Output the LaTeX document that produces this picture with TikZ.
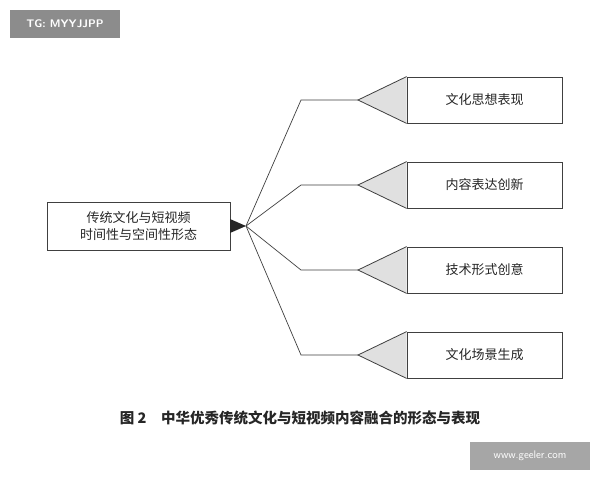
\documentclass[tikz,border=0pt]{standalone}
\usepackage{fontspec}
\newfontfamily\cjk{Noto Sans CJK SC}
\tikzset{
 rbox/.style={draw=black!75,line width=0.8pt,minimum width=155pt,minimum height=46pt,inner sep=0pt,font=\cjk\fontsize{13}{15}\selectfont,text=black!85},
 lbox/.style={draw=black!75,line width=0.8pt,minimum width=183pt,minimum height=48pt,inner sep=0pt,font=\cjk\fontsize{13}{17}\selectfont,text=black!85,align=center},
 conn/.style={draw=black!75,line width=0.7pt},
 wm/.style={fill=black!45,text=white,font=\sffamily\bfseries\fontsize{11}{12}\selectfont,inner sep=0pt}
}
\begin{document}
\begin{tikzpicture}[x=1pt,y=-1pt]
\useasboundingbox (0,0) rectangle (600,480);
\fill[white] (0,0) rectangle (600,480);
\node[wm,minimum width=110pt,minimum height=28pt] (wm1) at (65,24) {TG: MYYJJPP};
\node[wm,minimum width=120pt,minimum height=28pt,fill=black!35,font=\sffamily\fontsize{11}{12}\selectfont] (wm2) at (530,456) {www.geeler.com};
\node[lbox] (src) at (138.5,226) {传统文化与短视频\\时间性与空间性形态};
\coordinate (hub) at (246,226);
\coordinate (t1) at (230,219);
\coordinate (t2) at (230,233);
\fill[black!85] (t1) -- (hub) -- (t2) -- cycle;
\foreach \n/\y/\t in {a/100/文化思想表现, b/185/内容表达创新, c/270/技术形式创意, d/355/文化场景生成}{
  \node[rbox] (\n) at (484.5,\y) {\t};
  \coordinate (\n tip) at (358,\y);
  \filldraw[fill=black!12,draw=black!75,line width=0.8pt] (\n.north west) -- (\n tip) -- (\n.south west);
  \draw[conn] (hub) -- (301,\y) -- (\n tip);
}
\node[font=\cjk\bfseries\fontsize{14.5}{16}\selectfont,text=black!85] (cap) at (300,418) {图 2\quad 中华优秀传统文化与短视频内容融合的形态与表现};
\end{tikzpicture}
\end{document}
